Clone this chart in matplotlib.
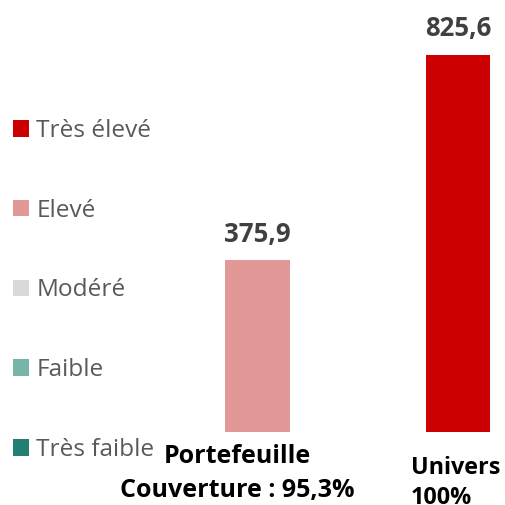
import matplotlib.pyplot as plt
from matplotlib.patches import Patch

plt.rcParams['font.family'] = ['Open Sans', 'DejaVu Sans']

categories = ['Portefeuille', 'Univers']
sublabels = ['Couverture : 95,3%', '100%']
values = [375.9, 825.6]
bar_colors = ['#E39898', '#CC0000']

legend_labels = ['Très élevé', 'Elevé', 'Modéré', 'Faible', 'Très faible']
legend_colors = ['#CC0000', '#E39898', '#D9D9D9', '#79B4AB', '#247F73']

fig = plt.figure(figsize=(5.05, 5.05), dpi=100)
# axes: bottom edge at the bar baseline, x so that bars sit at the right place
ax = fig.add_axes([0, 73 / 505, 1, 432 / 505])
ax.set_xlim(-257.5 / 200.5, 1 + 47 / 200.5)
ax.set_ylim(0, 946)

bars = ax.bar([0, 1], values, width=0.324, color=bar_colors)
for rect, v in zip(bars, values):
    ax.annotate(f'{v:.1f}'.replace('.', ','),
                (rect.get_x() + rect.get_width() / 2, v),
                xytext=(0, 9), textcoords='offset points',
                ha='center', va='bottom', fontsize=18.5, fontweight='bold',
                color='#404040')
ax.axis('off')

# category labels under the bars
fig.text(237 / 505, 1 - 444 / 505, categories[0] + '\n' + sublabels[0],
         ha='center', va='top', fontsize=18, fontweight='bold',
         color='black', linespacing=1.45)
fig.text(411 / 505, 1 - 456 / 505, categories[1] + '\n' + sublabels[1],
         ha='left', va='top', fontsize=16.8, fontweight='bold',
         color='black', linespacing=1.36, multialignment='left')

handles = [Patch(facecolor=c, edgecolor='none') for c in legend_colors]
leg = fig.legend(handles, legend_labels, loc='upper left',
                 bbox_to_anchor=(13 / 505, 1 - 119 / 505), frameon=False,
                 fontsize=17.6, handlelength=0.66, handleheight=0.66,
                 handletextpad=0.3, labelspacing=2.28, borderpad=0,
                 borderaxespad=0)
for t in leg.get_texts():
    t.set_color('#595959')

fig.savefig('out.png', dpi=100)
